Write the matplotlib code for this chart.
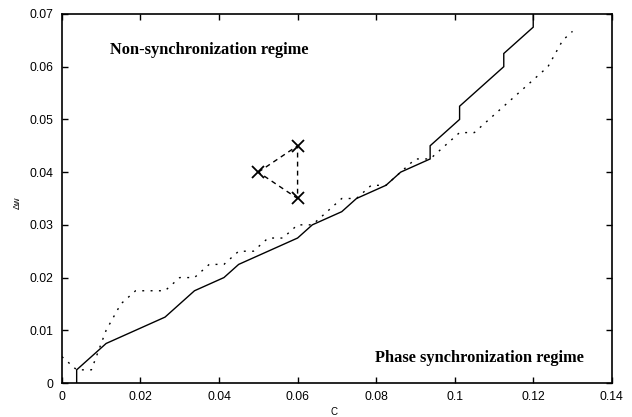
import matplotlib
matplotlib.use("Agg")
import matplotlib.pyplot as plt

# Solid boundary curve
solid_c = [0.00375, 0.00375, 0.01125, 0.02625, 0.03375, 0.04125, 0.045, 0.06, 0.06375,
           0.07125, 0.075, 0.0825, 0.08625, 0.09375, 0.09375, 0.10125, 0.10125,
           0.1125, 0.1125, 0.12, 0.12]
solid_dw = [0.0, 0.0025, 0.0075, 0.0125, 0.0175, 0.02, 0.0225, 0.0275, 0.03,
            0.0325, 0.035, 0.0375, 0.04, 0.0425, 0.045, 0.05, 0.0525,
            0.06, 0.0625, 0.0675, 0.07]

# Dotted boundary curve
dot_c = [0.0, 0.00375, 0.0075, 0.01125, 0.015, 0.01875, 0.02625, 0.03, 0.03375,
         0.0375, 0.04125, 0.045, 0.04875, 0.0525, 0.05625, 0.06, 0.06375, 0.0675,
         0.07125, 0.075, 0.07875, 0.0825, 0.08625, 0.09, 0.09375, 0.0975, 0.10125,
         0.105, 0.10875, 0.1125, 0.11625, 0.12, 0.12375, 0.1275, 0.13]
dot_dw = [0.005, 0.0025, 0.0025, 0.01, 0.015, 0.0175, 0.0175, 0.02, 0.02,
          0.0225, 0.0225, 0.025, 0.025, 0.0275, 0.0275, 0.03, 0.03, 0.0325,
          0.035, 0.035, 0.0375, 0.0375, 0.04, 0.0425, 0.0425, 0.045, 0.0475,
          0.0475, 0.05, 0.0525, 0.055, 0.0575, 0.06, 0.065, 0.0667]

# Triangle of cross markers
tri_c = [0.05, 0.06, 0.06, 0.05]
tri_dw = [0.04, 0.045, 0.035, 0.04]

x_ticks = [0, 0.02, 0.04, 0.06, 0.08, 0.1, 0.12, 0.14]
x_labels = ["0", "0.02", "0.04", "0.06", "0.08", "0.1", "0.12", "0.14"]
y_ticks = [0, 0.01, 0.02, 0.03, 0.04, 0.05, 0.06, 0.07]
y_labels = ["0", "0.01", "0.02", "0.03", "0.04", "0.05", "0.06", "0.07"]

fig = plt.figure(figsize=(6.32, 4.17), dpi=100)
ax = fig.add_axes([0.098, 0.0815, 0.870, 0.885])

ax.plot(solid_c, solid_dw, color="black", lw=1.0, solid_joinstyle="miter")
ax.plot(dot_c, dot_dw, color="black", lw=1.0, linestyle=(0, (1.4, 4.6)))
ax.plot(tri_c, tri_dw, color="black", lw=1.0, linestyle=(0, (3.5, 3.0)),
        marker="x", markersize=8, markeredgewidth=1.3, markevery=[0, 1, 2])

ax.set_xlim(0, 0.14)
ax.set_ylim(0, 0.07)
ax.set_xticks(x_ticks)
ax.set_xticklabels(x_labels)
ax.set_yticks(y_ticks)
ax.set_yticklabels(y_labels)
ax.tick_params(direction="in", length=4, width=1, top=True, right=True,
               labelsize=8.8, pad=6)
for lab in ax.get_xticklabels() + ax.get_yticklabels():
    lab.set_family("Liberation Sans")
for s in ax.spines.values():
    s.set_linewidth(1.2)

ax.text(0.0123, 0.0632, "Non-synchronization regime", family="Liberation Serif",
        fontweight="bold", fontsize=11.8, va="center", ha="left")
ax.text(0.0796, 0.0047, "Phase synchronization regime", family="Liberation Serif",
        fontweight="bold", fontsize=11.8, va="center", ha="left")

fig.text(17 / 632, 1 - 203 / 417, "Δw", rotation=90, family="Liberation Sans",
         fontsize=6.5, ha="center", va="center")
fig.text(334 / 632, 1 - 412 / 417, "C", family="Liberation Sans",
         fontsize=7, ha="center", va="center")

fig.savefig("out.png", dpi=100)
